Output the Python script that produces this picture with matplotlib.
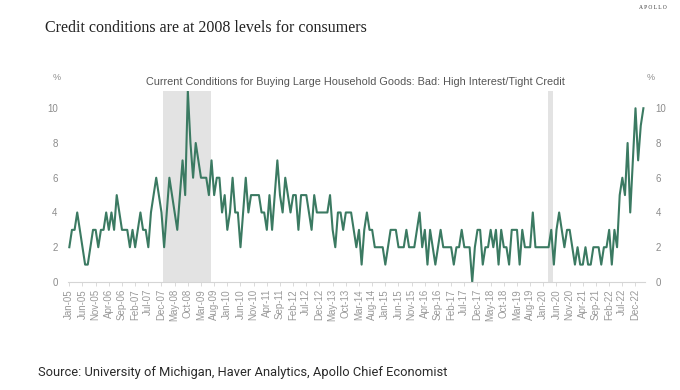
import numpy as np
import pandas as pd
import matplotlib.pyplot as plt

# share of respondents citing high interest / tight credit, monthly Jan-05 .. Mar-23
values = [
    2, 3, 3, 4, 3, 2, 1, 1, 2, 3, 3, 2,   # 2005
    3, 3, 4, 3, 4, 3, 5, 4, 3, 3, 3, 2,   # 2006
    3, 2, 3, 4, 3, 3, 2, 4, 5, 6, 5, 4,   # 2007
    2, 4, 6, 5, 4, 3, 5, 7, 5, 11, 8, 6,  # 2008
    8, 7, 6, 6, 6, 5, 7, 5, 6, 6, 4, 5,   # 2009
    3, 4, 6, 4, 4, 2, 4, 6, 4, 5, 5, 5,   # 2010
    5, 4, 4, 3, 5, 3, 5, 7, 5, 4, 6, 5,   # 2011
    4, 5, 5, 3, 5, 5, 5, 4, 3, 5, 4, 4,   # 2012
    4, 4, 4, 5, 3, 2, 4, 4, 3, 4, 4, 4,   # 2013
    3, 2, 3, 1, 3, 4, 3, 3, 2, 2, 2, 2,   # 2014
    1, 2, 3, 3, 3, 2, 2, 2, 3, 2, 2, 2,   # 2015
    3, 4, 2, 3, 1, 3, 2, 1, 2, 3, 2, 2,   # 2016
    2, 2, 1, 2, 2, 3, 2, 2, 2, 0, 2, 3,   # 2017
    3, 1, 2, 2, 3, 2, 3, 1, 3, 2, 2, 1,   # 2018
    3, 3, 3, 1, 3, 2, 2, 2, 4, 2, 2, 2,   # 2019
    2, 2, 2, 3, 1, 3, 4, 3, 2, 3, 3, 2,   # 2020
    1, 2, 1, 1, 2, 1, 1, 2, 2, 2, 1, 2,   # 2021
    2, 3, 1, 3, 2, 5, 6, 5, 8, 4, 7, 10,  # 2022
    7, 9, 10,                             # 2023
]
months = pd.date_range("2005-01-01", periods=len(values), freq="MS")
month_labels = months.strftime("%b-%y").tolist()
recessions = [("Dec-07", "Jun-09"), ("Feb-20", "Apr-20")]
y_ticks = [0, 2, 4, 6, 8, 10]

title = "Credit conditions are at 2008 levels for consumers"
subtitle = "Current Conditions for Buying Large Household Goods: Bad: High Interest/Tight Credit"
source = "Source: University of Michigan, Haver Analytics, Apollo Chief Economist"

grey = "#8c8c8c"
green = "#3b7a62"

fig = plt.figure(figsize=(6.8, 3.9), dpi=100)
ax = fig.add_axes([0.1, 0.277, 0.8485, 0.49])

x = np.arange(len(values))
for a, b in recessions:
    ax.axvspan(month_labels.index(a) + 0.75, month_labels.index(b) + 0.75,
               color="#e3e3e3", lw=0, zorder=0)
ax.plot(x, values, color=green, lw=1.5, zorder=2)

ax.set_xlim(-0.5, len(values) - 0.4)
ax.set_ylim(0, 11)

ticks = x[::5]
ax.set_xticks(ticks)
ax.set_xticklabels([month_labels[i] for i in ticks], rotation=90,
                   fontsize=7, color="#999999", family="Liberation Sans")
ax.tick_params(axis="x", length=3, width=0.6, color="#d5d5d5", pad=2)

ax.set_yticks(y_ticks)
ax.set_yticklabels([str(v) for v in y_ticks], fontsize=7, color=grey,
                   family="Liberation Sans")
ax.tick_params(axis="y", left=False, right=False, labelleft=True,
               labelright=True, pad=4)

for s in ["top", "left", "right"]:
    ax.spines[s].set_visible(False)
ax.spines["bottom"].set_color("#d5d5d5")
ax.spines["bottom"].set_linewidth(0.8)

fig.text(0.084, 0.80, "%", fontsize=6.5, color=grey, ha="center", va="center",
         family="Liberation Sans")
fig.text(0.957, 0.80, "%", fontsize=6.5, color=grey, ha="center", va="center",
         family="Liberation Sans")
fig.text(0.522, 0.79, subtitle, fontsize=7.8, color="#555555", ha="center",
         va="center", family="Liberation Sans")

fig.text(0.066, 0.928, title, fontsize=11.5, color="#222222", ha="left",
         va="center", family="Liberation Serif")
fig.text(0.98, 0.988, "A P O L L O", fontsize=4, color="#333333", ha="right",
         va="top", family="Liberation Serif")
fig.text(0.056, 0.046, source, fontsize=9.3, color="#2a2a2a", ha="left",
         va="center", family="Roboto")

fig.savefig("out.png", dpi=100, facecolor="white")
